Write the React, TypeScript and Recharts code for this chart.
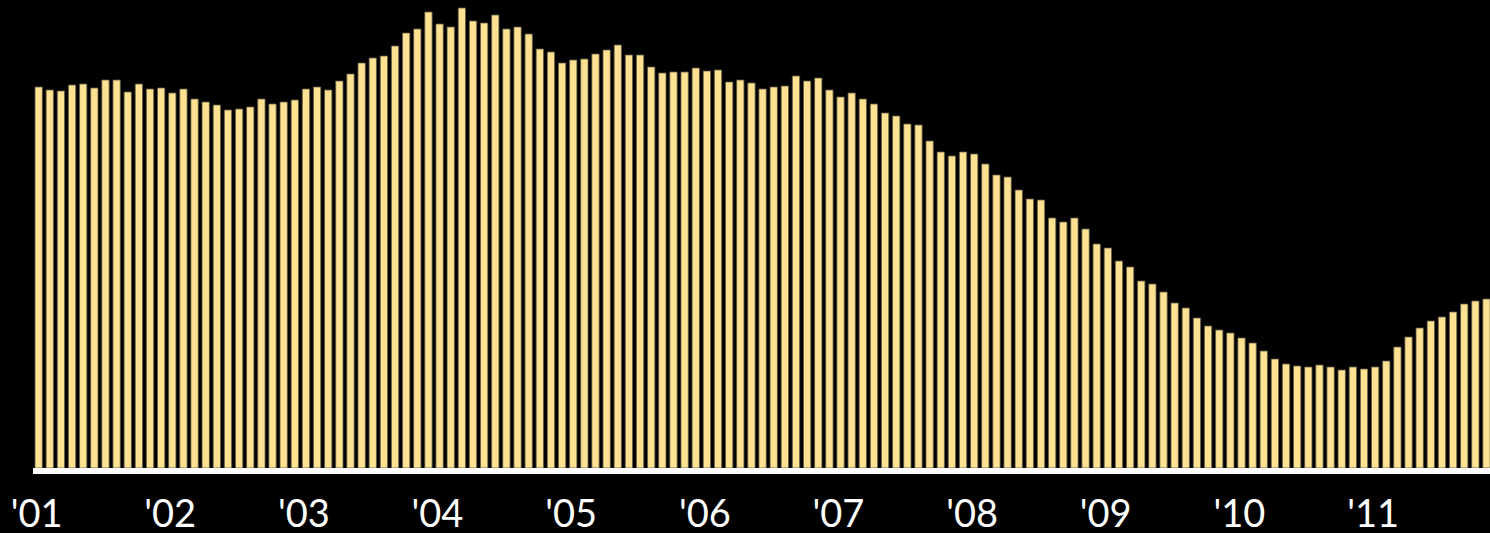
import { Bar, BarChart, XAxis, YAxis } from 'recharts';

// monthly values (one array per year)
const v2001 = [381, 378, 377, 383, 384, 380, 388, 388, 376, 384, 379, 380];
const v2002 = [375, 379, 369, 366, 363, 358, 359, 361, 369, 364, 366, 368];
const v2003 = [379, 381, 378, 387, 394, 405, 410, 412, 422, 435, 439, 456];
const v2004 = [444, 441, 460, 447, 445, 453, 439, 441, 434, 419, 416, 405];
const v2005 = [408, 409, 414, 418, 423, 413, 413, 401, 395, 396, 396, 400];
const v2006 = [397, 398, 386, 388, 385, 379, 381, 382, 392, 387, 390, 378];
const v2007 = [371, 375, 369, 364, 355, 352, 344, 343, 327, 316, 312, 316];
const v2008 = [314, 304, 293, 291, 278, 269, 268, 250, 246, 250, 239, 224];
const v2009 = [220, 207, 201, 187, 184, 176, 165, 160, 150, 142, 138, 135];
const v2010 = [130, 125, 117, 109, 104, 102, 101, 103, 101, 98, 101, 99];
const v2011 = [101, 107, 121, 131, 140, 147, 151, 156, 164, 167, 169];

const YEARS = ['2001', '2002', '2003', '2004', '2005', '2006', '2007', '2008', '2009', '2010', '2011'];
const YEAR_VALUES = [v2001, v2002, v2003, v2004, v2005, v2006, v2007, v2008, v2009, v2010, v2011];
const TICK_LABELS = ["'01", "'02", "'03", "'04", "'05", "'06", "'07", "'08", "'09", "'10", "'11"];

const data = YEARS.flatMap((year, yi) =>
  YEAR_VALUES[yi].map((value, mi) => ({ month: `${year}-${String(mi + 1).padStart(2, '0')}`, value })),
);

const TICKS = YEARS.map((y) => `${y}-01`);

function formatTick(month: string) {
  return TICK_LABELS[YEARS.indexOf(month.slice(0, 4))] ?? '';
}

export default function App() {
  return (
    <div style={{ position: 'absolute', left: 0, top: 0, width: 1490, height: 533, overflow: 'hidden', background: '#000' }}>
      <BarChart width={1492} height={533} data={data} margin={{ top: 0, right: 0, left: 33, bottom: 0 }} barSize={7.3}>
        <YAxis hide domain={[-3, 468]} allowDataOverflow />
        <Bar dataKey="value" fill="#FFE192" stroke="#5f5a48" strokeWidth={0.8} isAnimationActive={false} />
        <XAxis
          dataKey="month"
          ticks={TICKS}
          interval={0}
          tickFormatter={formatTick}
          height={62}
          axisLine={{ stroke: '#FFFFFF', strokeWidth: 6 }}
          tickLine={false}
          tickSize={6}
          tickMargin={23}
          tick={{ fontSize: 38, fill: '#FFFFFF', fontFamily: 'Lato', dx: -2 }}
        />
      </BarChart>
    </div>
  );
}
